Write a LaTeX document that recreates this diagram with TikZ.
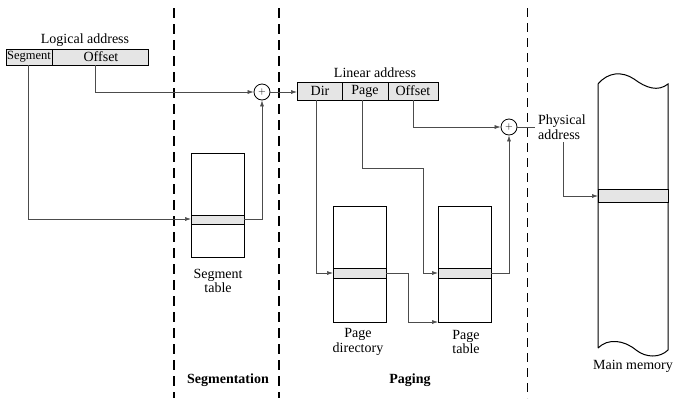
\documentclass[tikz,border=0pt]{standalone}
\usepackage{fontspec}
\setmainfont{Liberation Serif}
\usetikzlibrary{arrows.meta}
\begin{document}
\begin{tikzpicture}[x=1pt,y=-1pt,font=\fontsize{14}{14.5}\selectfont,
  box/.style={draw,line width=1pt},
  field/.style={draw,line width=1pt,fill=gray!20},
  link/.style={draw,gray!60!black,line width=0.6pt,-{Latex[length=6pt,width=4pt]}},
  wire/.style={draw,gray!60!black,line width=0.6pt},
  adder/.style={draw,circle,line width=0.8pt,minimum size=16pt,inner sep=0pt,font=\fontsize{10}{10}\selectfont}]
\useasboundingbox (0,0) rectangle (691,416);

% dashed separators
\draw[line width=1.5pt,dash pattern=on 10pt off 6pt] (174,8) -- (174,398);
\draw[line width=1.5pt,dash pattern=on 10pt off 6pt] (279,8) -- (279,398);
\draw[line width=0.6pt,dash pattern=on 9pt off 6pt] (527,8) -- (527,398);

% logical address
\draw[field] (6,49) rectangle (148,65);
\draw[line width=1pt] (52,49) -- (52,65);
\node (seg) at (29,57) {\fontsize{12.5}{13}\selectfont Segment};
\node (off) at (101,57) {Offset};
\node (la) at (85,40) {Logical address};
\coordinate (segb) at (28,65);
\coordinate (offb) at (95,65);

% segment table
\draw[box,fill=white] (191,153) rectangle (244,257);
\draw[field] (191,215) rectangle (244,224);
\node[align=center] (segt) at (218,281) {Segment\\table};
\coordinate (segin) at (191,219);
\coordinate (segout) at (244,219);

\node[adder] (add1) at (262,92) {$+$};
\draw[link] (offb) |- (add1);
\draw[link] (segb) |- (segin);
\draw[link] (segout) -| (add1);

% linear address
\draw[field] (297,82) rectangle (438,100);
\draw[line width=1pt] (342,82) -- (342,100) (388,82) -- (388,100);
\node (dir) at (320,91) {Dir};
\node (pg) at (365,91) {Page};
\node (off2) at (413,91) {Offset};
\node (lin) at (375,73) {Linear address};
\coordinate (linin) at (297,92);
\draw[link] (add1) -- (linin);

% page directory and page table
\draw[box,fill=white] (333,206) rectangle (386,322);
\draw[field] (333,268) rectangle (386,278);
\node[align=center] (pdl) at (358,342) {Page\\directory};
\draw[box,fill=white] (438,206) rectangle (491,322);
\draw[field] (438,268) rectangle (491,278);
\node[align=center] (ptl) at (466,342) {Page\\table};

\node[adder] (add2) at (509,127) {$+$};
\draw[link] (413,100) |- (add2);
\draw[link] (316,100) |- (333,273);
\draw[link] (362,100) |- (423,168) |- (438,273);
\draw[link] (386,273) -| (408,322) -- (438,322);
\draw[link] (491,273) -| (add2);

% physical address
\draw[wire] (add2) -- (535,127);
\node[align=left,anchor=west,inner sep=1pt] (pa) at (537,127) {Physical\\address};
\draw[link] (563,142) |- (598,196);

% main memory
\draw[line width=1pt,fill=white] (598,348) -- (598,84)
  .. controls (608,72) and (622,71) .. (634,79)
  .. controls (646,88) and (658,92) .. (668,84) -- (668,350)
  .. controls (660,358) and (646,358) .. (636,350)
  .. controls (624,340) and (608,338) .. (598,348);
\draw[field] (598,189) rectangle (668,202);
\node (mm) at (633,366) {Main memory};

\node[font=\fontsize{14}{14.5}\selectfont\bfseries] (segm) at (228,380) {Segmentation};
\node[font=\fontsize{14}{14.5}\selectfont\bfseries] (pag) at (410,380) {Paging};
\end{tikzpicture}
\end{document}
